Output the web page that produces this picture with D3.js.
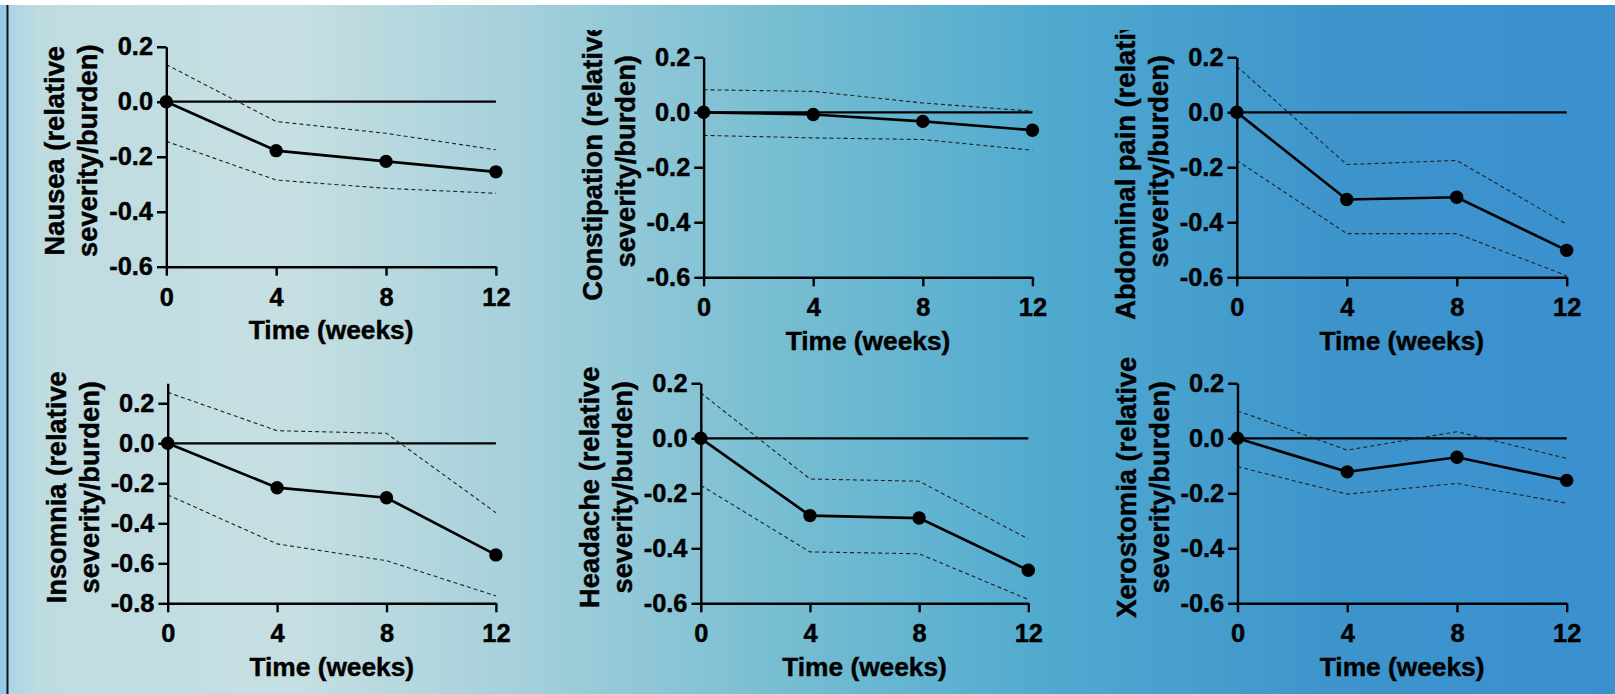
<!DOCTYPE html>
<html>
<head>
<meta charset="utf-8">
<script src="https://cdn.jsdelivr.net/npm/d3@7"></script>
<style>
  html, body { margin: 0; padding: 0; overflow: hidden; }
  text { font-family: "Liberation Sans", Arial, sans-serif; font-weight: bold; fill: #000; }
</style>
</head>
<body>
<div id="chart"></div>
<script>
var width = 1615;
var height = 694;

// data
var weeks = [0, 4, 8, 12];
var symptoms = ["Nausea", "Constipation", "Abdominal pain", "Insomnia", "Headache", "Xerostomia"];
var meanValues = [
    [0, -0.178, -0.217, -0.255],
    [0, -0.008, -0.033, -0.065],
    [0, -0.317, -0.309, -0.502],
    [0, -0.222, -0.272, -0.558],
    [0, -0.281, -0.290, -0.480],
    [0, -0.122, -0.069, -0.153]
];
var upperCI = [
    [0.135, -0.072, -0.115, -0.175],
    [0.082, 0.076, 0.034, 0.004],
    [0.167, -0.190, -0.175, -0.407],
    [0.255, 0.063, 0.050, -0.347],
    [0.165, -0.148, -0.156, -0.366],
    [0.100, -0.043, 0.024, -0.073]
];
var lowerCI = [
    [-0.144, -0.285, -0.315, -0.333],
    [-0.084, -0.093, -0.099, -0.138],
    [-0.175, -0.441, -0.441, -0.594],
    [-0.258, -0.503, -0.587, -0.763],
    [-0.171, -0.413, -0.420, -0.586],
    [-0.103, -0.203, -0.164, -0.236]
];
var yDomains = [[-0.6, 0.2], [-0.6, 0.2], [-0.6, 0.2], [-0.8, 0.3], [-0.6, 0.2], [-0.6, 0.2]];
var yTicks = [
    [-0.6, -0.4, -0.2, 0.0, 0.2],
    [-0.6, -0.4, -0.2, 0.0, 0.2],
    [-0.6, -0.4, -0.2, 0.0, 0.2],
    [-0.8, -0.6, -0.4, -0.2, 0.0, 0.2],
    [-0.6, -0.4, -0.2, 0.0, 0.2],
    [-0.6, -0.4, -0.2, 0.0, 0.2]
];

// plot boxes: left, right, top, bottom (pixels)
var boxes = [
    [166.3, 495.9, 46.7, 266.7],
    [703.6, 1032.4, 57.3, 277.3],
    [1236.8, 1566.7, 57.3, 277.3],
    [167.7, 495.9, 383.3, 603.3],
    [700.8, 1028.3, 383.3, 603.3],
    [1237.5, 1566.7, 383.3, 603.3]
];
var clipTops = [30, 30, 30, 355, 355, 355];

var svg = d3.select("#chart").append("svg")
        .attr("width", width)
        .attr("height", height);

var defs = svg.append("defs");
var grad = defs.append("linearGradient")
        .attr("id", "bg")
        .attr("x1", "0").attr("y1", "0")
        .attr("x2", "1").attr("y2", "0");
var stops = [[0, "#a6d3e6"], [0.025, "#bfdce1"], [0.18, "#c6dfe2"], [0.32, "#a6d0db"],
    [0.48, "#78bed2"], [0.65, "#50aacf"], [0.82, "#3e95cc"], [1, "#3a90cf"]];
stops.forEach(function(s) {
    grad.append("stop").attr("offset", s[0]).attr("stop-color", s[1]);
});

svg.append("rect")
        .attr("width", width)
        .attr("height", height)
        .attr("fill", "url(#bg)");
svg.append("rect")
        .attr("x", 0).attr("y", 0)
        .attr("width", 7).attr("height", height)
        .attr("fill", "#93cbe6");
svg.append("rect")
        .attr("x", 0).attr("y", 0)
        .attr("width", width).attr("height", 5)
        .attr("fill", "#ffffff");
svg.append("line")
        .attr("x1", 7.5).attr("x2", 7.5)
        .attr("y1", 5).attr("y2", height)
        .attr("stroke", "#111")
        .attr("stroke-width", 2);

function fmt(d) {
    var s = Math.abs(d) < 1e-9 ? "0.0" : d.toFixed(1);
    return s;
}

function drawPanel(i) {
    var b = boxes[i];
    var x = d3.scaleLinear().domain([0, 12]).range([b[0], b[1]]);
    var y = d3.scaleLinear().domain(yDomains[i]).range([b[3], b[2]]);

    defs.append("clipPath").attr("id", "clip" + i)
            .append("rect")
            .attr("x", b[0] - 200).attr("y", clipTops[i])
            .attr("width", 600).attr("height", 400);

    var g = svg.append("g").attr("clip-path", "url(#clip" + i + ")");

    // zero reference line
    g.append("line")
            .attr("x1", x(0)).attr("x2", x(12))
            .attr("y1", y(0)).attr("y2", y(0))
            .attr("stroke", "#000")
            .attr("stroke-width", 2.3);

    var line = d3.line()
            .x(function(d, k) { return x(weeks[k]); })
            .y(function(d) { return y(d); });

    [upperCI[i], lowerCI[i]].forEach(function(ci) {
        g.append("path")
                .datum(ci)
                .attr("d", line)
                .attr("fill", "none")
                .attr("stroke", "#222")
                .attr("stroke-width", 1.1)
                .attr("stroke-dasharray", "4,3");
    });

    var yAxis = d3.axisLeft(y).tickValues(yTicks[i]).tickFormat(fmt)
            .tickSize(9.3).tickSizeOuter(0).tickPadding(4);
    var xAxis = d3.axisBottom(x).tickValues(weeks)
            .tickSize(9).tickSizeOuter(0).tickPadding(12);

    var ya = g.append("g").attr("transform", "translate(" + b[0] + ",0)").call(yAxis);
    var xa = g.append("g").attr("transform", "translate(0," + b[3] + ")").call(xAxis);
    [ya, xa].forEach(function(a) {
        a.select(".domain").attr("stroke", "#000").attr("stroke-width", 2.4);
        a.selectAll(".tick line").attr("stroke", "#000").attr("stroke-width", 2.4);
        a.selectAll(".tick text")
                .attr("font-family", "Liberation Sans, Arial, sans-serif")
                .attr("font-weight", "bold")
                .attr("font-size", "25.4px")
                .attr("fill", "#000")
                .attr("stroke", "#000")
                .attr("stroke-width", 0.45);
    });

    g.append("path")
            .datum(meanValues[i])
            .attr("d", line)
            .attr("fill", "none")
            .attr("stroke", "#000")
            .attr("stroke-width", 2.7);

    g.selectAll("circle.pt")
            .data(meanValues[i])
            .enter().append("circle")
            .attr("class", "pt")
            .attr("cx", function(d, k) { return x(weeks[k]); })
            .attr("cy", function(d) { return y(d); })
            .attr("r", 6.7)
            .attr("fill", "#000");

    // axis titles
    g.append("text")
            .attr("x", (b[0] + b[1]) / 2)
            .attr("y", b[3] + 72.5)
            .attr("text-anchor", "middle")
            .attr("font-size", "26.3px")
            .attr("stroke", "#000")
            .attr("stroke-width", 0.45)
            .text("Time (weeks)");

    var cy = (b[2] + b[3]) / 2 - 6;
    var lines = [symptoms[i] + " (relative", "severity/burden)"];
    var offs = [-111.5, -78.5];
    lines.forEach(function(t, k) {
        g.append("text")
                .attr("transform", "translate(" + (b[0] + offs[k]) + "," + cy + ") rotate(-90)")
                .attr("text-anchor", "middle")
                .attr("dy", "0.35em")
                .attr("font-size", "27.3px")
                .attr("stroke", "#000")
                .attr("stroke-width", 0.45)
                .text(t);
    });
}

for (var i = 0; i < symptoms.length; i++) {
    drawPanel(i);
}
</script>
</body>
</html>
